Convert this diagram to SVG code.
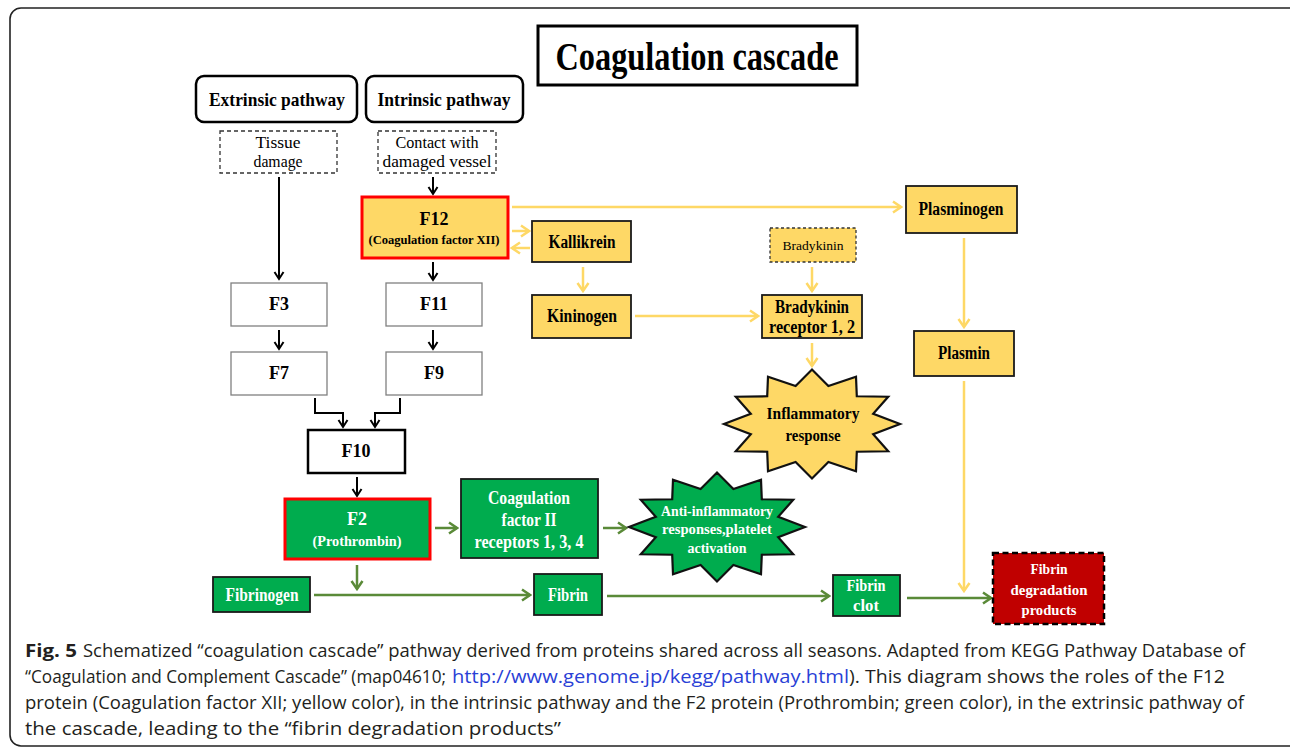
<svg xmlns="http://www.w3.org/2000/svg" xmlns:xlink="http://www.w3.org/1999/xlink" width="1290" height="749" viewBox="0 0 1290 749">
<style>
.t{font-family:"Liberation Serif","Times New Roman",serif;text-anchor:middle;}
.b{font-weight:bold;}
.w{fill:#ffffff;}
.yel{fill:#FED866;stroke:#1a1a1a;stroke-width:1.8;}
.grn{fill:#00AC4E;stroke:#1a1a1a;stroke-width:1.8;}
.wb{fill:#ffffff;stroke:#808080;stroke-width:1.3;}
.dash{fill:#ffffff;stroke:#333;stroke-width:1.3;stroke-dasharray:4 3;}
.cy{stroke:#FED866;stroke-width:2.5;fill:none;}
.cg{stroke:#5A8A38;stroke-width:2.5;fill:none;}
.ck{stroke:#000;stroke-width:2;fill:none;}
.cap{font-family:"Open Sans","Liberation Sans",sans-serif;font-size:17.5px;fill:#231f20;}
</style>
<defs>
<marker id="ak" markerUnits="userSpaceOnUse" viewBox="0 0 12 12" markerWidth="12" markerHeight="12" refX="10" refY="6" orient="auto">
<path d="M3,1.5 L10,6 L3,10.5" fill="none" stroke="#000" stroke-width="2"/>
</marker>
<marker id="ay" markerUnits="userSpaceOnUse" viewBox="0 0 14 14" markerWidth="14" markerHeight="14" refX="12" refY="7" orient="auto">
<path d="M4,1.5 L12,7 L4,12.5" fill="none" stroke="#FED866" stroke-width="2.5"/>
</marker>
<marker id="ag" markerUnits="userSpaceOnUse" viewBox="0 0 14 14" markerWidth="14" markerHeight="14" refX="12" refY="7" orient="auto">
<path d="M4,1.5 L12,7 L4,12.5" fill="none" stroke="#5A8A38" stroke-width="2.5"/>
</marker>
<path id="star12" stroke="#111" stroke-width="2.2" stroke-linejoin="miter" d="M88,0 L61.2,-10.16 L76.21,-27.25 L44.8,-27.75 L44,-47.2 L16.4,-37.9 L0,-54.5 L-16.4,-37.9 L-44,-47.2 L-44.8,-27.75 L-76.21,-27.25 L-61.2,-10.16 L-88,0 L-61.2,10.16 L-76.21,27.25 L-44.8,27.75 L-44,47.2 L-16.4,37.9 L0,54.5 L16.4,37.9 L44,47.2 L44.8,27.75 L76.21,27.25 L61.2,10.16 Z"/>
</defs>
<rect width="1290" height="749" fill="#ffffff"/>
<rect x="10" y="8" width="1295" height="738" rx="11" fill="none" stroke="#222" stroke-width="1.6"/>

<g id="title">
<rect x="538" y="26" width="319" height="59" fill="#fff" stroke="#000" stroke-width="3"/>
<text class="t b" x="697" y="70" font-size="40" textLength="283" lengthAdjust="spacingAndGlyphs">Coagulation cascade</text>
</g>

<g id="connectors">
<line class="ck" x1="279" y1="177" x2="279" y2="279" marker-end="url(#ak)"/>
<line class="ck" x1="433" y1="177" x2="433" y2="194" marker-end="url(#ak)"/>
<line class="ck" x1="433" y1="262" x2="433" y2="280" marker-end="url(#ak)"/>
<line class="ck" x1="279" y1="330" x2="279" y2="349" marker-end="url(#ak)"/>
<line class="ck" x1="433" y1="330" x2="433" y2="349" marker-end="url(#ak)"/>
<path class="ck" d="M315,398 V413 H343 V427" marker-end="url(#ak)"/>
<path class="ck" d="M400,398 V413 H375 V427" marker-end="url(#ak)"/>
<line class="ck" x1="357" y1="477" x2="357" y2="496" marker-end="url(#ak)"/>
<line class="cy" x1="512" y1="207" x2="901" y2="207" marker-end="url(#ay)"/>
<line class="cy" x1="512" y1="231" x2="529" y2="231" marker-end="url(#ay)"/>
<line class="cy" x1="530" y1="248" x2="512" y2="248" marker-end="url(#ay)"/>
<line class="cy" x1="583" y1="267" x2="583" y2="291" marker-end="url(#ay)"/>
<line class="cy" x1="812" y1="267" x2="812" y2="291" marker-end="url(#ay)"/>
<line class="cy" x1="635" y1="316" x2="758" y2="316" marker-end="url(#ay)"/>
<line class="cy" x1="812" y1="343" x2="812" y2="366" marker-end="url(#ay)"/>
<line class="cy" x1="964" y1="238" x2="964" y2="327" marker-end="url(#ay)"/>
<line class="cy" x1="964" y1="381" x2="964" y2="591" marker-end="url(#ay)"/>
<line class="cg" x1="435" y1="528" x2="457" y2="528" marker-end="url(#ag)"/>
<line class="cg" x1="603" y1="528" x2="626" y2="528" marker-end="url(#ag)"/>
<line class="cg" x1="357" y1="565" x2="357" y2="589" marker-end="url(#ag)"/>
<line class="cg" x1="314" y1="595" x2="530" y2="595" marker-end="url(#ag)"/>
<line class="cg" x1="607" y1="596" x2="829" y2="596" marker-end="url(#ag)"/>
<line class="cg" x1="907" y1="598" x2="991" y2="598" marker-end="url(#ag)"/>
</g>

<g id="extrinsic">
<rect x="196" y="76" width="161" height="46" rx="8" fill="#fff" stroke="#000" stroke-width="2.5"/>
<text class="t b" x="277" y="106" font-size="19" textLength="136" lengthAdjust="spacingAndGlyphs">Extrinsic pathway</text>
</g>
<g id="intrinsic">
<rect x="366" y="76" width="157" height="46" rx="8" fill="#fff" stroke="#000" stroke-width="2.5"/>
<text class="t b" x="444" y="106" font-size="19" textLength="133" lengthAdjust="spacingAndGlyphs">Intrinsic pathway</text>
</g>
<g id="tissue">
<rect class="dash" x="220" y="131" width="117" height="42"/>
<text class="t" x="278" y="148" font-size="16" textLength="45" lengthAdjust="spacingAndGlyphs">Tissue</text>
<text class="t" x="278" y="167" font-size="16" textLength="49" lengthAdjust="spacingAndGlyphs">damage</text>
</g>
<g id="contact">
<rect class="dash" x="378" y="131" width="118" height="42"/>
<text class="t" x="437" y="148" font-size="16" textLength="83" lengthAdjust="spacingAndGlyphs">Contact with</text>
<text class="t" x="437" y="167" font-size="16" textLength="109" lengthAdjust="spacingAndGlyphs">damaged vessel</text>
</g>
<g id="f12">
<rect x="362" y="197" width="146" height="61" fill="#FED866" stroke="#FF0000" stroke-width="3"/>
<text class="t b" x="434" y="225" font-size="18">F12</text>
<text class="t b" x="434" y="244" font-size="13" textLength="131" lengthAdjust="spacingAndGlyphs">(Coagulation factor XII)</text>
</g>
<g id="f3">
<rect class="wb" x="231" y="283" width="96" height="43"/>
<text class="t b" x="279" y="310" font-size="18">F3</text>
</g>
<g id="f11">
<rect class="wb" x="386" y="283" width="96" height="43"/>
<text class="t b" x="434" y="310" font-size="18">F11</text>
</g>
<g id="f7">
<rect class="wb" x="231" y="352" width="96" height="43"/>
<text class="t b" x="279" y="379" font-size="18">F7</text>
</g>
<g id="f9">
<rect class="wb" x="386" y="352" width="96" height="43"/>
<text class="t b" x="434" y="379" font-size="18">F9</text>
</g>
<g id="f10">
<rect x="308" y="430" width="97" height="43" fill="#fff" stroke="#000" stroke-width="2.5"/>
<text class="t b" x="356" y="457" font-size="18">F10</text>
</g>
<g id="f2">
<rect x="285" y="499" width="145" height="60" fill="#00AC4E" stroke="#FF0000" stroke-width="3"/>
<text class="t b w" x="357" y="525" font-size="18">F2</text>
<text class="t b w" x="357" y="546" font-size="14" textLength="89" lengthAdjust="spacingAndGlyphs">(Prothrombin)</text>
</g>
<g id="cf2r">
<rect class="grn" x="461" y="479" width="137" height="79"/>
<text class="t b w" x="529" y="504" font-size="18" textLength="82" lengthAdjust="spacingAndGlyphs">Coagulation</text>
<text class="t b w" x="529" y="526" font-size="18" textLength="55" lengthAdjust="spacingAndGlyphs">factor II</text>
<text class="t b w" x="529" y="548" font-size="18" textLength="109" lengthAdjust="spacingAndGlyphs">receptors 1, 3, 4</text>
</g>
<g id="antiinflam">
<use xlink:href="#star12" x="717" y="527" fill="#00AC4E"/>
<text class="t b w" x="717" y="516" font-size="14.5" textLength="112" lengthAdjust="spacingAndGlyphs">Anti-inflammatory</text>
<text class="t b w" x="717" y="534" font-size="14.5" textLength="110" lengthAdjust="spacingAndGlyphs">responses,platelet</text>
<text class="t b w" x="717" y="553" font-size="14.5" textLength="59" lengthAdjust="spacingAndGlyphs">activation</text>
</g>
<g id="fibrinogen">
<rect class="grn" x="213" y="577" width="97" height="35"/>
<text class="t b w" x="262" y="601" font-size="18" textLength="73" lengthAdjust="spacingAndGlyphs">Fibrinogen</text>
</g>
<g id="fibrin">
<rect class="grn" x="534" y="574" width="68" height="41"/>
<text class="t b w" x="568" y="601" font-size="18" textLength="40" lengthAdjust="spacingAndGlyphs">Fibrin</text>
</g>
<g id="fibrinclot">
<rect class="grn" x="833" y="575" width="67" height="41"/>
<text class="t b w" x="866" y="591" font-size="17" textLength="39" lengthAdjust="spacingAndGlyphs">Fibrin</text>
<text class="t b w" x="866" y="611" font-size="17" textLength="26" lengthAdjust="spacingAndGlyphs">clot</text>
</g>
<g id="fdp">
<rect x="993" y="553" width="111" height="71" fill="#C00000" stroke="#000" stroke-width="2.5" stroke-dasharray="6 3.5"/>
<text class="t b w" x="1049" y="574" font-size="15" textLength="37" lengthAdjust="spacingAndGlyphs">Fibrin</text>
<text class="t b w" x="1049" y="595" font-size="15" textLength="77" lengthAdjust="spacingAndGlyphs">degradation</text>
<text class="t b w" x="1049" y="615" font-size="15" textLength="55" lengthAdjust="spacingAndGlyphs">products</text>
</g>
<g id="plasminogen">
<rect class="yel" x="906" y="186" width="111" height="47"/>
<text class="t b" x="961" y="215" font-size="18" textLength="85" lengthAdjust="spacingAndGlyphs">Plasminogen</text>
</g>
<g id="plasmin">
<rect class="yel" x="914" y="331" width="100" height="45"/>
<text class="t b" x="964" y="359" font-size="18" textLength="52" lengthAdjust="spacingAndGlyphs">Plasmin</text>
</g>
<g id="kallikrein">
<rect class="yel" x="532" y="221" width="99" height="41"/>
<text class="t b" x="582" y="248" font-size="18" textLength="67" lengthAdjust="spacingAndGlyphs">Kallikrein</text>
</g>
<g id="kininogen">
<rect class="yel" x="532" y="295" width="99" height="43"/>
<text class="t b" x="582" y="322" font-size="18" textLength="70" lengthAdjust="spacingAndGlyphs">Kininogen</text>
</g>
<g id="bradykinin">
<rect x="770" y="228" width="86" height="34" fill="#FED866" stroke="#333" stroke-width="1.3" stroke-dasharray="3 2.5"/>
<text class="t" x="813" y="250" font-size="13" textLength="61" lengthAdjust="spacingAndGlyphs">Bradykinin</text>
</g>
<g id="bkr">
<rect class="yel" x="762" y="295" width="100" height="43"/>
<text class="t b" x="812" y="313" font-size="18" textLength="74" lengthAdjust="spacingAndGlyphs">Bradykinin</text>
<text class="t b" x="812" y="333" font-size="18" textLength="86" lengthAdjust="spacingAndGlyphs">receptor 1, 2</text>
</g>
<g id="inflam">
<use xlink:href="#star12" x="812" y="424" fill="#FED866"/>
<text class="t b" x="813" y="419" font-size="16.5" textLength="93" lengthAdjust="spacingAndGlyphs">Inflammatory</text>
<text class="t b" x="813" y="441" font-size="16.5" textLength="55" lengthAdjust="spacingAndGlyphs">response</text>
</g>

<g id="caption">
<text class="cap" x="25" y="657" font-weight="bold" textLength="52" lengthAdjust="spacingAndGlyphs">Fig. 5</text>
<text class="cap" x="83" y="657" textLength="1162" lengthAdjust="spacingAndGlyphs">Schematized “coagulation cascade” pathway derived from proteins shared across all seasons. Adapted from KEGG Pathway Database of</text>
<text class="cap" x="25" y="683" textLength="421" lengthAdjust="spacingAndGlyphs">“Coagulation and Complement Cascade” (map04610;</text>
<text class="cap" x="452" y="683" style="fill:#2a3fd6" textLength="397" lengthAdjust="spacingAndGlyphs">http://www.genome.jp/kegg/pathway.html</text>
<text class="cap" x="849" y="683" textLength="376" lengthAdjust="spacingAndGlyphs">). This diagram shows the roles of the F12</text>
<text class="cap" x="25" y="709" textLength="1219" lengthAdjust="spacingAndGlyphs">protein (Coagulation factor XII; yellow color), in the intrinsic pathway and the F2 protein (Prothrombin; green color), in the extrinsic pathway of</text>
<text class="cap" x="25" y="735" textLength="536" lengthAdjust="spacingAndGlyphs">the cascade, leading to the “fibrin degradation products”</text>
</g>
</svg>
